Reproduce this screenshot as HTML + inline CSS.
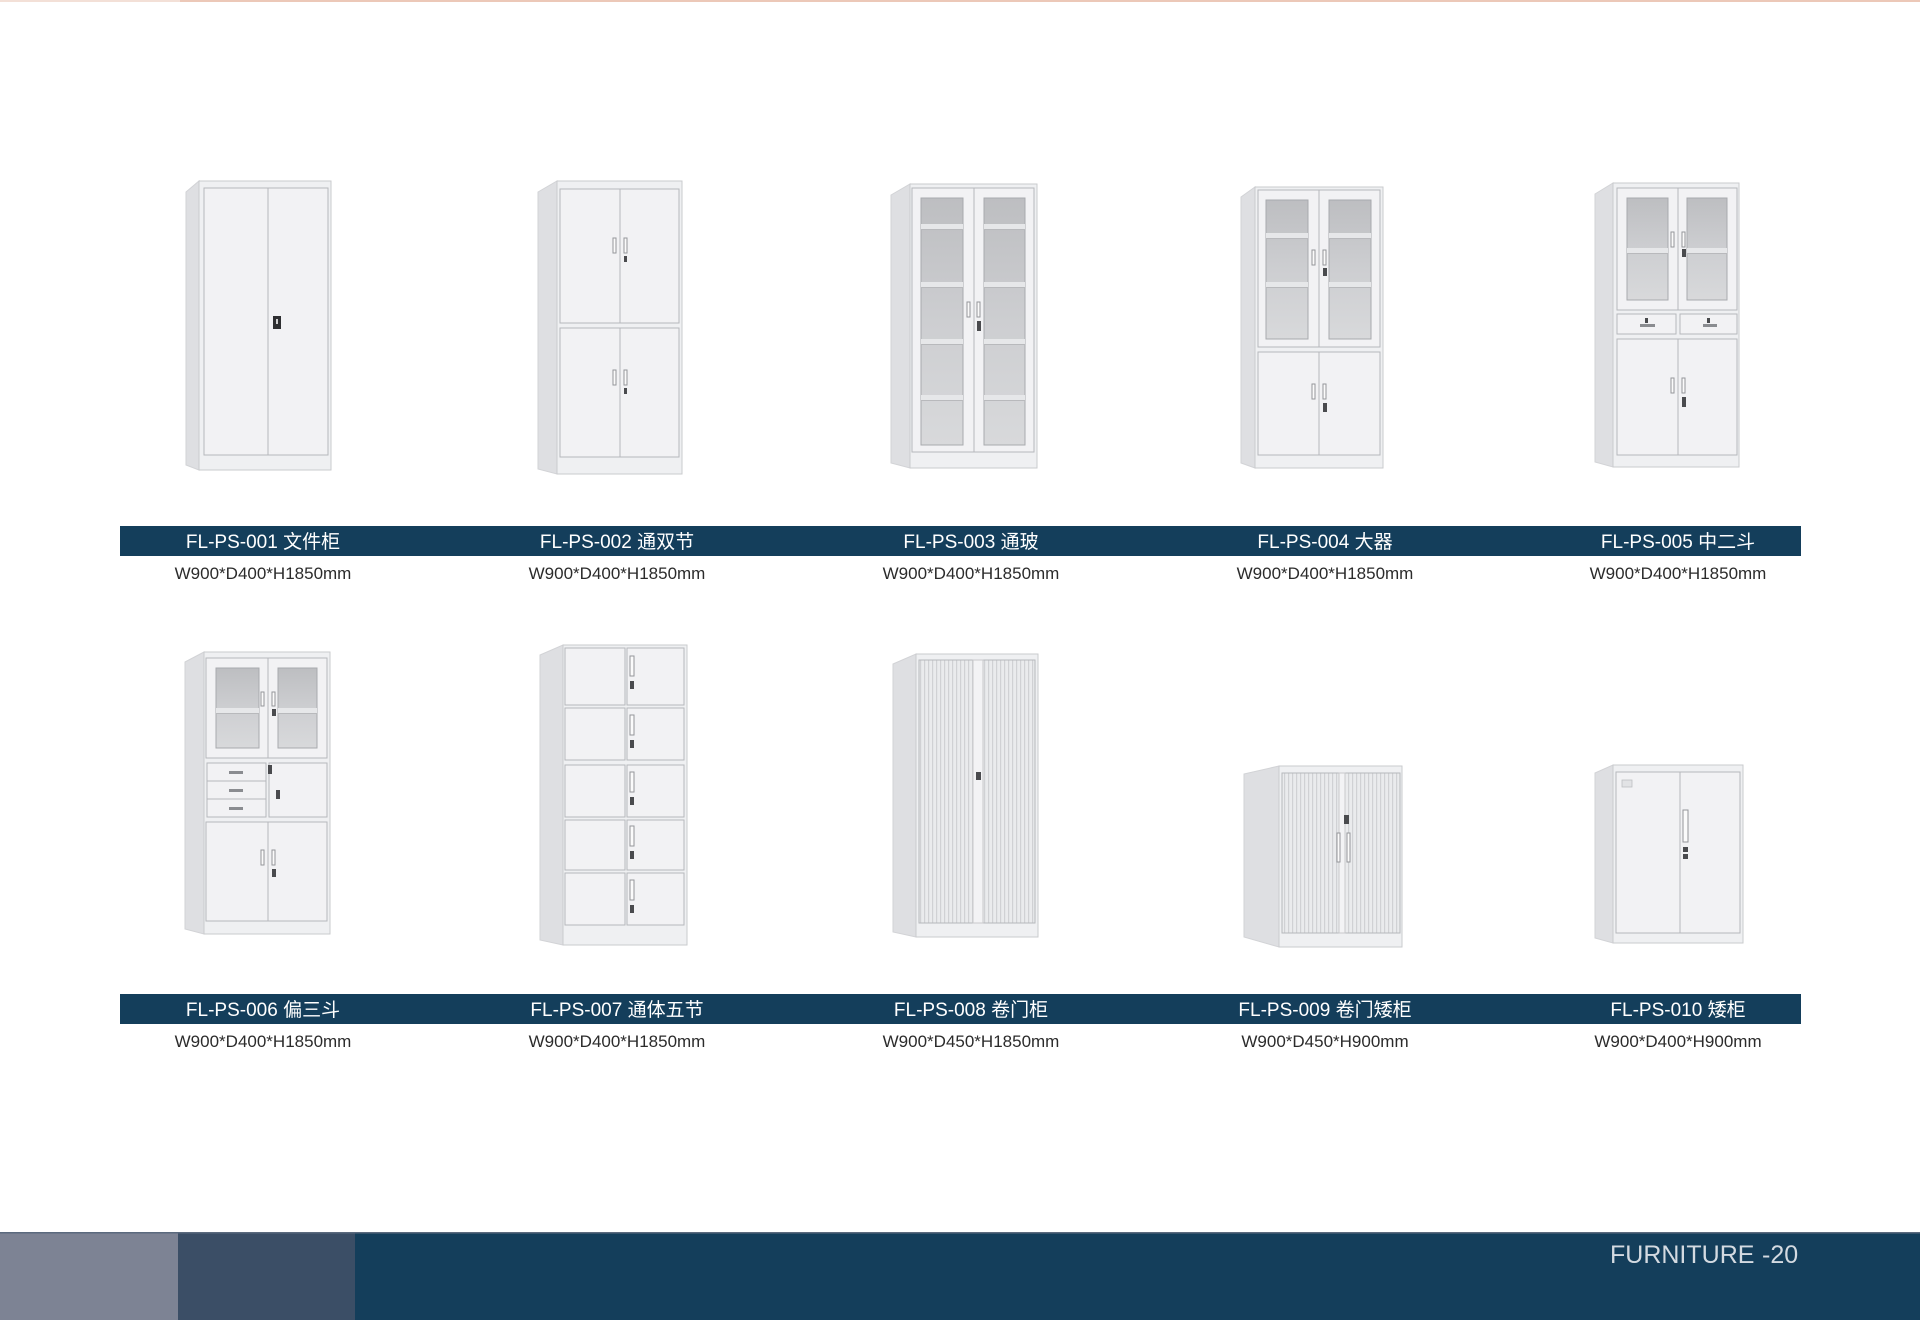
<!DOCTYPE html>
<html>
<head>
<meta charset="utf-8">
<style>
html,body{margin:0;padding:0;background:#fff;}
body{width:1920px;height:1320px;overflow:hidden;}
svg{display:block;}
.side{fill:#dedfe2;stroke:#d2d3d6;stroke-width:1}
.front{fill:#eff0f2;stroke:#cacbce;stroke-width:1}
.door{fill:#f2f2f4;stroke:#b6b8bc;stroke-width:1}
.glass{fill:url(#gl);stroke:#a8aaae;stroke-width:1}
.shelf{fill:#e6e7e9}
.shl{fill:#b8b9bc}
.hd{fill:#fbfbfb;stroke:#94969a;stroke-width:1}
.lk{fill:#4a4b4e}
.tb{fill:url(#tamb);stroke:#b6b8bc;stroke-width:1}
.lbl{font-family:"Liberation Sans","Noto Sans CJK SC",sans-serif;font-size:19px;fill:#ffffff;text-anchor:middle}
.dim{font-family:"Liberation Sans","Noto Sans CJK SC",sans-serif;font-size:17px;fill:#2b2b2b;text-anchor:middle}
</style>
</head>
<body>
<svg width="1920" height="1320" viewBox="0 0 1920 1320" xmlns="http://www.w3.org/2000/svg">
<defs>
<linearGradient id="gl" x1="0" y1="0" x2="0" y2="1">
<stop offset="0" stop-color="#bdbec1"/>
<stop offset="0.5" stop-color="#cdced1"/>
<stop offset="1" stop-color="#d8d9db"/>
</linearGradient>
<pattern id="tamb" width="4" height="10" patternUnits="userSpaceOnUse">
<rect width="4" height="10" fill="#eaebed"/>
<rect width="1.2" height="10" fill="#d0d1d4"/>
</pattern>
</defs>

<!-- top line -->
<rect x="0" y="0" width="1920" height="2" fill="#ecc8b8"/>
<rect x="0" y="0" width="180" height="2" fill="#f3e0d7"/>

<!-- ===== C1 ===== -->
<polygon class="side" points="186,192 199,181 199,470 186,465"/>
<rect class="front" x="199" y="181" width="132" height="289"/>
<rect class="door" x="204" y="188" width="64" height="267"/>
<rect class="door" x="268" y="188" width="60" height="267"/>
<rect x="273" y="316" width="8" height="13" fill="#2e2f31"/>
<rect x="276" y="319" width="2" height="5" fill="#d0d0d0"/>

<!-- ===== C2 ===== -->
<polygon class="side" points="538,192 557,181 557,474 538,469"/>
<rect class="front" x="557" y="181" width="125" height="293"/>
<rect class="door" x="560" y="189" width="60" height="134"/>
<rect class="door" x="620" y="189" width="59" height="134"/>
<rect class="door" x="560" y="328" width="60" height="129"/>
<rect class="door" x="620" y="328" width="59" height="129"/>
<rect class="hd" x="613" y="238" width="3" height="15"/>
<rect class="hd" x="624" y="238" width="3" height="15"/>
<rect class="lk" x="624" y="256" width="3" height="6"/>
<rect class="hd" x="613" y="370" width="3" height="15"/>
<rect class="hd" x="624" y="370" width="3" height="15"/>
<rect class="lk" x="624" y="388" width="3" height="6"/>

<!-- ===== C3 ===== -->
<polygon class="side" points="891,195 910,184 910,468 891,463"/>
<rect class="front" x="910" y="184" width="127" height="284"/>
<rect class="door" x="912" y="188" width="62" height="264"/>
<rect class="door" x="974" y="188" width="60" height="264"/>
<rect class="glass" x="921" y="198" width="42" height="247"/>
<rect class="glass" x="984" y="198" width="41" height="247"/>
<g>
<rect class="shelf" x="921" y="224" width="42" height="5"/><rect class="shl" x="921" y="229" width="42" height="1"/>
<rect class="shelf" x="921" y="282" width="42" height="5"/><rect class="shl" x="921" y="287" width="42" height="1"/>
<rect class="shelf" x="921" y="339" width="42" height="5"/><rect class="shl" x="921" y="344" width="42" height="1"/>
<rect class="shelf" x="921" y="395" width="42" height="5"/><rect class="shl" x="921" y="400" width="42" height="1"/>
<rect class="shelf" x="984" y="224" width="41" height="5"/><rect class="shl" x="984" y="229" width="41" height="1"/>
<rect class="shelf" x="984" y="282" width="41" height="5"/><rect class="shl" x="984" y="287" width="41" height="1"/>
<rect class="shelf" x="984" y="339" width="41" height="5"/><rect class="shl" x="984" y="344" width="41" height="1"/>
<rect class="shelf" x="984" y="395" width="41" height="5"/><rect class="shl" x="984" y="400" width="41" height="1"/>
</g>
<rect class="hd" x="967" y="302" width="3" height="15"/>
<rect class="hd" x="977" y="302" width="3" height="15"/>
<rect class="lk" x="977" y="321" width="4" height="10"/>

<!-- ===== C4 ===== -->
<polygon class="side" points="1241,197 1255,187 1255,468 1241,463"/>
<rect class="front" x="1255" y="187" width="128" height="281"/>
<rect class="door" x="1258" y="190" width="61" height="157"/>
<rect class="door" x="1319" y="190" width="61" height="157"/>
<rect class="glass" x="1266" y="200" width="42" height="139"/>
<rect class="glass" x="1329" y="200" width="42" height="139"/>
<rect class="shelf" x="1266" y="233" width="42" height="5"/><rect class="shl" x="1266" y="238" width="42" height="1"/>
<rect class="shelf" x="1266" y="282" width="42" height="5"/><rect class="shl" x="1266" y="287" width="42" height="1"/>
<rect class="shelf" x="1329" y="233" width="42" height="5"/><rect class="shl" x="1329" y="238" width="42" height="1"/>
<rect class="shelf" x="1329" y="282" width="42" height="5"/><rect class="shl" x="1329" y="287" width="42" height="1"/>
<rect class="door" x="1258" y="352" width="61" height="103"/>
<rect class="door" x="1319" y="352" width="61" height="103"/>
<rect class="hd" x="1312" y="250" width="3" height="15"/>
<rect class="hd" x="1323" y="250" width="3" height="15"/>
<rect class="lk" x="1323" y="268" width="4" height="8"/>
<rect class="hd" x="1312" y="384" width="3" height="15"/>
<rect class="hd" x="1323" y="384" width="3" height="15"/>
<rect class="lk" x="1323" y="403" width="4" height="9"/>

<!-- ===== C5 ===== -->
<polygon class="side" points="1595,194 1613,183 1613,467 1595,462"/>
<rect class="front" x="1613" y="183" width="126" height="284"/>
<rect class="door" x="1617" y="188" width="61" height="122"/>
<rect class="door" x="1678" y="188" width="59" height="122"/>
<rect class="glass" x="1627" y="198" width="41" height="102"/>
<rect class="glass" x="1687" y="198" width="40" height="102"/>
<rect class="shelf" x="1627" y="248" width="41" height="5"/><rect class="shl" x="1627" y="253" width="41" height="1"/>
<rect class="shelf" x="1687" y="248" width="40" height="5"/><rect class="shl" x="1687" y="253" width="40" height="1"/>
<rect class="hd" x="1671" y="232" width="3" height="15"/>
<rect class="hd" x="1682" y="232" width="3" height="15"/>
<rect class="lk" x="1682" y="249" width="4" height="8"/>
<rect class="door" x="1617" y="314" width="59" height="20"/>
<rect class="door" x="1680" y="314" width="57" height="20"/>
<rect x="1640" y="324" width="15" height="3" fill="#8a8c90"/>
<rect class="lk" x="1645" y="318" width="3" height="5"/>
<rect x="1703" y="324" width="14" height="3" fill="#8a8c90"/>
<rect class="lk" x="1707" y="318" width="3" height="5"/>
<rect class="door" x="1617" y="339" width="61" height="116"/>
<rect class="door" x="1678" y="339" width="59" height="116"/>
<rect class="hd" x="1671" y="378" width="3" height="15"/>
<rect class="hd" x="1682" y="378" width="3" height="15"/>
<rect class="lk" x="1682" y="397" width="4" height="10"/>

<!-- ===== C6 ===== -->
<polygon class="side" points="185,662 204,652 204,934 185,929"/>
<rect class="front" x="204" y="652" width="126" height="282"/>
<rect class="door" x="206" y="658" width="62" height="100"/>
<rect class="door" x="268" y="658" width="59" height="100"/>
<rect class="glass" x="216" y="668" width="43" height="80"/>
<rect class="glass" x="278" y="668" width="39" height="80"/>
<rect class="shelf" x="216" y="708" width="43" height="5"/><rect class="shl" x="216" y="713" width="43" height="1"/>
<rect class="shelf" x="278" y="708" width="39" height="5"/><rect class="shl" x="278" y="713" width="39" height="1"/>
<rect class="hd" x="261" y="692" width="3" height="14"/>
<rect class="hd" x="272" y="692" width="3" height="14"/>
<rect class="lk" x="272" y="709" width="4" height="7"/>
<rect class="door" x="207" y="763" width="59" height="18"/>
<rect class="door" x="207" y="781" width="59" height="18"/>
<rect class="door" x="207" y="799" width="59" height="18"/>
<rect x="229" y="771" width="14" height="3" fill="#8a8c90"/>
<rect x="229" y="789" width="14" height="3" fill="#8a8c90"/>
<rect x="229" y="807" width="14" height="3" fill="#8a8c90"/>
<rect class="door" x="269" y="763" width="58" height="54"/>
<rect class="lk" x="268" y="765" width="4" height="9"/>
<rect class="lk" x="276" y="790" width="4" height="9"/>
<rect class="door" x="206" y="822" width="62" height="99"/>
<rect class="door" x="268" y="822" width="59" height="99"/>
<rect class="hd" x="261" y="850" width="3" height="15"/>
<rect class="hd" x="272" y="850" width="3" height="15"/>
<rect class="lk" x="272" y="869" width="4" height="8"/>

<!-- ===== C7 ===== -->
<polygon class="side" points="540,655 563,645 563,945 540,940"/>
<rect class="front" x="563" y="645" width="124" height="300"/>
<rect class="door" x="565" y="648" width="60" height="57"/><rect class="door" x="627" y="648" width="57" height="57"/>
<rect class="hd" x="630" y="656" width="4" height="20"/><rect class="lk" x="630" y="681" width="4" height="8"/>
<rect class="door" x="565" y="708" width="60" height="52"/><rect class="door" x="627" y="708" width="57" height="52"/>
<rect class="hd" x="630" y="715" width="4" height="20"/><rect class="lk" x="630" y="740" width="4" height="8"/>
<rect class="door" x="565" y="765" width="60" height="52"/><rect class="door" x="627" y="765" width="57" height="52"/>
<rect class="hd" x="630" y="772" width="4" height="20"/><rect class="lk" x="630" y="797" width="4" height="8"/>
<rect class="door" x="565" y="820" width="60" height="50"/><rect class="door" x="627" y="820" width="57" height="50"/>
<rect class="hd" x="630" y="826" width="4" height="20"/><rect class="lk" x="630" y="851" width="4" height="8"/>
<rect class="door" x="565" y="873" width="60" height="52"/><rect class="door" x="627" y="873" width="57" height="52"/>
<rect class="hd" x="630" y="880" width="4" height="20"/><rect class="lk" x="630" y="905" width="4" height="8"/>

<!-- ===== C8 ===== -->
<polygon class="side" points="893,664 916,654 916,937 893,932"/>
<rect class="front" x="916" y="654" width="122" height="283"/>
<rect class="tb" x="919" y="660" width="116" height="263"/>
<rect x="973" y="660" width="10" height="263" fill="#f3f3f5" stroke="#c8c9cc" stroke-width="1"/>
<rect class="lk" x="976" y="772" width="5" height="8"/>

<!-- ===== C9 ===== -->
<polygon class="side" points="1244,774 1279,766 1279,947 1244,937"/>
<rect class="front" x="1279" y="766" width="123" height="181"/>
<rect class="tb" x="1282" y="773" width="118" height="160"/>
<rect x="1339" y="773" width="6" height="160" fill="#f3f3f5" stroke="#c8c9cc" stroke-width="1"/>
<rect class="lk" x="1344" y="815" width="5" height="9"/>
<rect class="hd" x="1337" y="833" width="3" height="29"/>
<rect class="hd" x="1347" y="833" width="3" height="29"/>

<!-- ===== C10 ===== -->
<polygon class="side" points="1595,773 1613,765 1613,943 1595,938"/>
<rect class="front" x="1613" y="765" width="130" height="178"/>
<rect class="door" x="1616" y="772" width="64" height="161"/>
<rect class="door" x="1680" y="772" width="60" height="161"/>
<rect x="1622" y="780" width="10" height="7" fill="#e2e3e5" stroke="#bdbfc2" stroke-width="0.8"/>
<rect class="hd" x="1683" y="810" width="5" height="32"/>
<rect class="lk" x="1683" y="847" width="5" height="5"/>
<rect class="lk" x="1683" y="854" width="5" height="5"/>

<!-- ===== label bars ===== -->
<rect x="120" y="526" width="1681" height="30" fill="#143e5b"/>
<rect x="120" y="994" width="1681" height="30" fill="#143e5b"/>

<text class="lbl" x="263" y="548">FL-PS-001 文件柜</text>
<text class="lbl" x="617" y="548">FL-PS-002 通双节</text>
<text class="lbl" x="971" y="548">FL-PS-003 通玻</text>
<text class="lbl" x="1325" y="548">FL-PS-004 大器</text>
<text class="lbl" x="1678" y="548">FL-PS-005 中二斗</text>

<text class="dim" x="263" y="579">W900*D400*H1850mm</text>
<text class="dim" x="617" y="579">W900*D400*H1850mm</text>
<text class="dim" x="971" y="579">W900*D400*H1850mm</text>
<text class="dim" x="1325" y="579">W900*D400*H1850mm</text>
<text class="dim" x="1678" y="579">W900*D400*H1850mm</text>

<text class="lbl" x="263" y="1016">FL-PS-006 偏三斗</text>
<text class="lbl" x="617" y="1016">FL-PS-007 通体五节</text>
<text class="lbl" x="971" y="1016">FL-PS-008 卷门柜</text>
<text class="lbl" x="1325" y="1016">FL-PS-009 卷门矮柜</text>
<text class="lbl" x="1678" y="1016">FL-PS-010 矮柜</text>

<text class="dim" x="263" y="1047">W900*D400*H1850mm</text>
<text class="dim" x="617" y="1047">W900*D400*H1850mm</text>
<text class="dim" x="971" y="1047">W900*D450*H1850mm</text>
<text class="dim" x="1325" y="1047">W900*D450*H900mm</text>
<text class="dim" x="1678" y="1047">W900*D400*H900mm</text>

<!-- ===== footer ===== -->
<rect x="0" y="1233" width="1920" height="87" fill="#143e5b"/>
<rect x="0" y="1233" width="178" height="87" fill="#7d8394"/>
<rect x="178" y="1233" width="177" height="87" fill="#3b4e66"/>
<rect x="0" y="1232" width="1920" height="1.5" fill="#5b6a7e"/>
<text x="1610" y="1263" font-family="Liberation Sans, sans-serif" font-size="25" fill="#d4dae1">FURNITURE</text>
<text x="1762" y="1263" font-family="Liberation Sans, sans-serif" font-size="25" fill="#d4dae1">-20</text>
</svg>
</body>
</html>
